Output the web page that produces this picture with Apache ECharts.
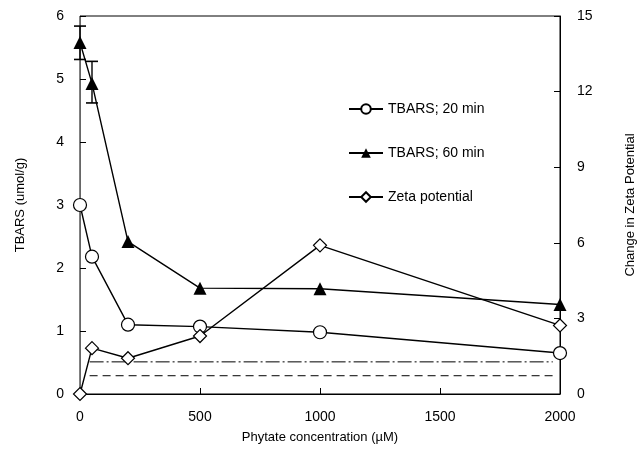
<!DOCTYPE html>
<html><head><meta charset="utf-8">
<script src="https://cdn.jsdelivr.net/npm/echarts@6/dist/echarts.min.js"></script>
<style>html,body{margin:0;padding:0;background:#fff}#c{width:640px;height:456px}</style>
</head><body><div id="c"></div>
<script>
var concentrations = [0, 50, 200, 500, 1000, 2000];
var tbars20 = [3.0, 2.18, 1.1, 1.07, 0.98, 0.65];
var tbars60 = [5.58, 4.93, 2.42, 1.68, 1.67, 1.42];
var tbars60Low = [5.31, 4.62, null, null, null, null];
var tbars60High = [5.84, 5.28, null, null, null, null];
var zeta = [0, 1.82, 1.42, 2.3, 5.9, 2.72];
var refX = [40, 1970];
var refDashDot = [0.51, 0.51];
var refDashed = [0.29, 0.29];
var xTicks = [0, 500, 1000, 1500, 2000];

function pairs(xs, ys) { return xs.map(function (x, i) { return [x, ys[i]]; }); }
var errData = [];
concentrations.forEach(function (x, i) {
  if (tbars60Low[i] != null) errData.push([x, tbars60Low[i], tbars60High[i]]);
});

var FONT = 'Liberation Sans';
var chart = echarts.init(document.getElementById('c'), null, {renderer: 'canvas'});
chart.setOption({
  animation: false,
  textStyle: {fontFamily: FONT, color: '#000'},
  grid: {left: 80, right: 80, top: 16, bottom: 62, show: true, borderColor: '#000', borderWidth: 1,
    containLabel: false, outerBoundsMode: 'none'},
  legend: {
    orient: 'vertical', left: 343, top: 97, itemGap: 30, itemWidth: 34, itemHeight: 12,
    textStyle: {fontFamily: FONT, fontSize: 14, color: '#000'},
    data: ['TBARS; 20 min', 'TBARS; 60 min', 'Zeta potential']
  },
  xAxis: {
    type: 'value', min: 0, max: 2000, interval: 500,
    name: 'Phytate concentration (\u00b5M)', nameLocation: 'middle', nameGap: 37,
    nameTextStyle: {fontFamily: FONT, fontSize: 13, color: '#000'},
    axisLine: {lineStyle: {color: '#000'}},
    axisTick: {inside: true, length: 6, lineStyle: {color: '#000'}},
    axisLabel: {fontFamily: FONT, fontSize: 14, color: '#000', margin: 16,
      formatter: function (v) { return xTicks.indexOf(v) >= 0 ? String(v) : ''; }},
    splitLine: {show: false}
  },
  yAxis: [{
    type: 'value', min: 0, max: 6, interval: 1, position: 'left',
    name: 'TBARS (umol/g)', nameLocation: 'middle', nameGap: 53, nameRotate: 90,
    nameTextStyle: {fontFamily: FONT, fontSize: 13, color: '#000'},
    axisLine: {show: true, lineStyle: {color: '#666'}},
    axisTick: {show: true, inside: true, length: 6, lineStyle: {color: '#000'}},
    axisLabel: {fontFamily: FONT, fontSize: 14, color: '#000', margin: 16},
    splitLine: {show: false}
  }, {
    type: 'value', min: 0, max: 15, interval: 3, position: 'right',
    name: 'Change in Zeta Potential', nameLocation: 'middle', nameGap: 64, nameRotate: 90,
    nameTextStyle: {fontFamily: FONT, fontSize: 13, color: '#000'},
    axisLine: {show: true, lineStyle: {color: '#000'}},
    axisTick: {show: true, inside: true, length: 6, lineStyle: {color: '#000'}},
    axisLabel: {fontFamily: FONT, fontSize: 14, color: '#000', margin: 17},
    splitLine: {show: false}
  }],
  series: [{
    name: 'TBARS; 20 min', type: 'line', yAxisIndex: 0,
    data: pairs(concentrations, tbars20),
    symbol: 'circle', symbolSize: 13,
    itemStyle: {color: '#fff', borderColor: '#000', borderWidth: 1.2},
    lineStyle: {color: '#000', width: 1.4}, z: 3
  }, {
    name: 'TBARS; 60 min', type: 'line', yAxisIndex: 0,
    data: pairs(concentrations, tbars60),
    symbol: 'triangle', symbolSize: 13,
    itemStyle: {color: '#000', borderColor: '#000', borderWidth: 0},
    lineStyle: {color: '#000', width: 1.4}, z: 3
  }, {
    name: 'Zeta potential', type: 'line', yAxisIndex: 1,
    data: pairs(concentrations, zeta),
    symbol: 'diamond', symbolSize: 13,
    itemStyle: {color: '#fff', borderColor: '#000', borderWidth: 1.2},
    lineStyle: {color: '#000', width: 1.4}, z: 3
  }, {
    name: 'err', type: 'custom', yAxisIndex: 0, data: errData, z: 4,
    renderItem: function (params, api) {
      var x = api.value(0);
      var lo = api.coord([x, api.value(1)]);
      var hi = api.coord([x, api.value(2)]);
      var hw = 6;
      return {type: 'group', children: [
        {type: 'line', shape: {x1: lo[0], y1: lo[1], x2: hi[0], y2: hi[1]}, style: {stroke: '#000', lineWidth: 1.4}},
        {type: 'line', shape: {x1: lo[0] - hw, y1: lo[1], x2: lo[0] + hw, y2: lo[1]}, style: {stroke: '#000', lineWidth: 1.6}},
        {type: 'line', shape: {x1: hi[0] - hw, y1: hi[1], x2: hi[0] + hw, y2: hi[1]}, style: {stroke: '#000', lineWidth: 1.6}}
      ]};
    }
  }, {
    name: 'ref1', type: 'line', yAxisIndex: 0, data: pairs(refX, refDashDot),
    symbol: 'none', silent: true,
    lineStyle: {color: '#000', width: 1, type: [14, 3, 2, 3]}
  }, {
    name: 'ref2', type: 'line', yAxisIndex: 0, data: pairs(refX, refDashed),
    symbol: 'none', silent: true,
    lineStyle: {color: '#000', width: 1, type: [8, 5]}
  }]
});
</script></body></html>
